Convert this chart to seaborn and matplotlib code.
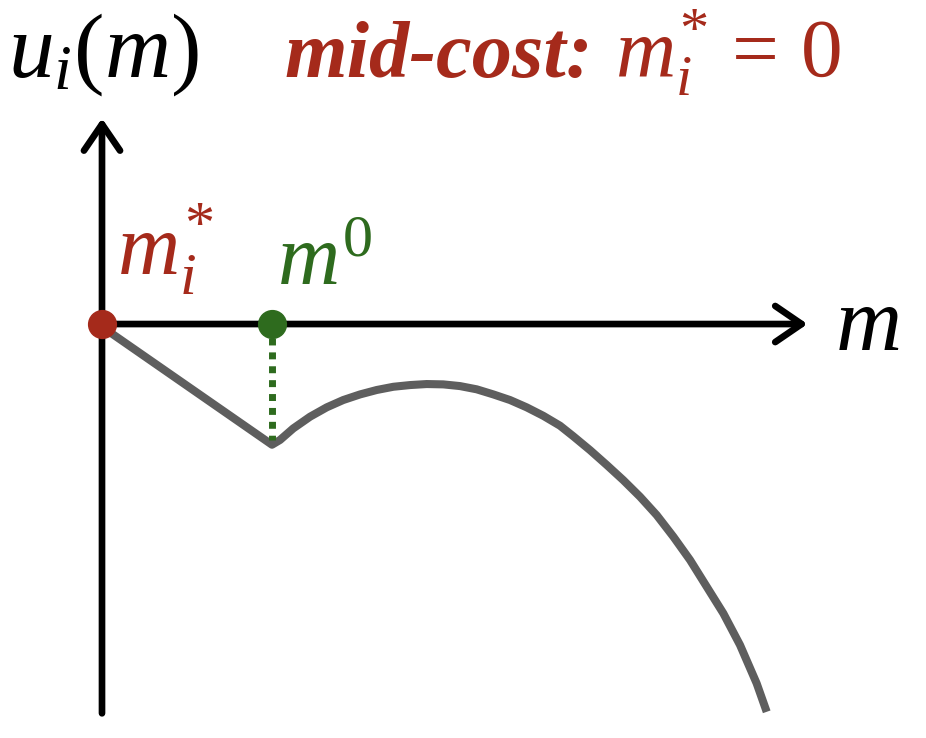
import matplotlib
matplotlib.use("Agg")
import matplotlib.pyplot as plt
import seaborn as sns
import pandas as pd

# curve u_i(m) (units: m0 = 1)
m_vals = [0.02, 1.00, 1.047, 1.125, 1.224, 1.322, 1.419, 1.518, 1.616, 1.714,
          1.812, 1.910, 2.008, 2.106, 2.204, 2.302, 2.400, 2.498, 2.596, 2.694,
          2.772, 2.871, 2.969, 3.066, 3.165, 3.263, 3.361, 3.459, 3.557, 3.655,
          3.753, 3.851, 3.910]
u_vals = [-0.03, -0.71, -0.682, -0.614, -0.545, -0.490, -0.447, -0.414, -0.388, -0.369,
          -0.359, -0.353, -0.355, -0.365, -0.384, -0.414, -0.447, -0.490, -0.540, -0.598,
          -0.660, -0.742, -0.829, -0.918, -1.016, -1.124, -1.251, -1.388, -1.545, -1.702,
          -1.888, -2.114, -2.281]

m_star = 0.0
m_zero = 1.0
u_at_m_zero = -0.68

RED = "#a52a1b"
GREEN = "#2e6b1e"
GREY = "#5e5e5e"

sns.set_style("white")
plt.rcParams["mathtext.fontset"] = "custom"
plt.rcParams["mathtext.it"] = "Liberation Serif:italic"
plt.rcParams["mathtext.rm"] = "Liberation Serif"
plt.rcParams["mathtext.bf"] = "Liberation Serif:bold:italic"

fig = plt.figure(figsize=(9.26, 7.38), dpi=100)
ax = fig.add_axes([0, 0, 1, 1])
ax.set_xlim(-0.6, 4.847)
ax.set_ylim(-2.435, 1.906)
ax.axis("off")

# axes with arrow heads
arrow = dict(arrowstyle="->,head_length=0.95,head_width=0.65", lw=4.8,
             color="black", mutation_scale=20, shrinkA=0, shrinkB=0)
ax.annotate("", xy=(0, 1.21), xytext=(0, -2.29), arrowprops=arrow)
ax.annotate("", xy=(4.15, 0), xytext=(0, 0), arrowprops=arrow)

# utility curve
df = pd.DataFrame({"m": m_vals, "u": u_vals})
sns.lineplot(data=df, x="m", y="u", sort=False, estimator=None, color=GREY,
             lw=5.8, ax=ax, solid_capstyle="butt", solid_joinstyle="round")

# dotted drop from m0
ax.plot([m_zero, m_zero], [-0.08, u_at_m_zero], color=GREEN, lw=5,
        linestyle=(0, (1, 1)), zorder=3)

ax.plot([m_star], [0], "o", color=RED, ms=20, zorder=5)
ax.plot([m_zero], [0], "o", color=GREEN, ms=20, zorder=5)

# labels
ax.text(-0.553, 1.453, r"$u_i(m)$", fontsize=66, color="black", va="baseline")
ax.text(1.076, 1.453, "mid-cost:", fontsize=58, color=RED, va="baseline",
        family="Liberation Serif", style="italic", weight="bold")
ax.text(3.018, 1.453, r"$m_i^{\!*} = \,0$", fontsize=60, color=RED, va="baseline")
ax.text(0.088, 0.288, r"$m_i^{\!*}$", fontsize=62, color=RED, va="baseline")
ax.text(1.03, 0.229, r"$m^0$", fontsize=62, color=GREEN, va="baseline")
ax.text(4.31, -0.153, r"$m$", fontsize=66, color="black", va="baseline")

fig.savefig("out.png", dpi=100)
